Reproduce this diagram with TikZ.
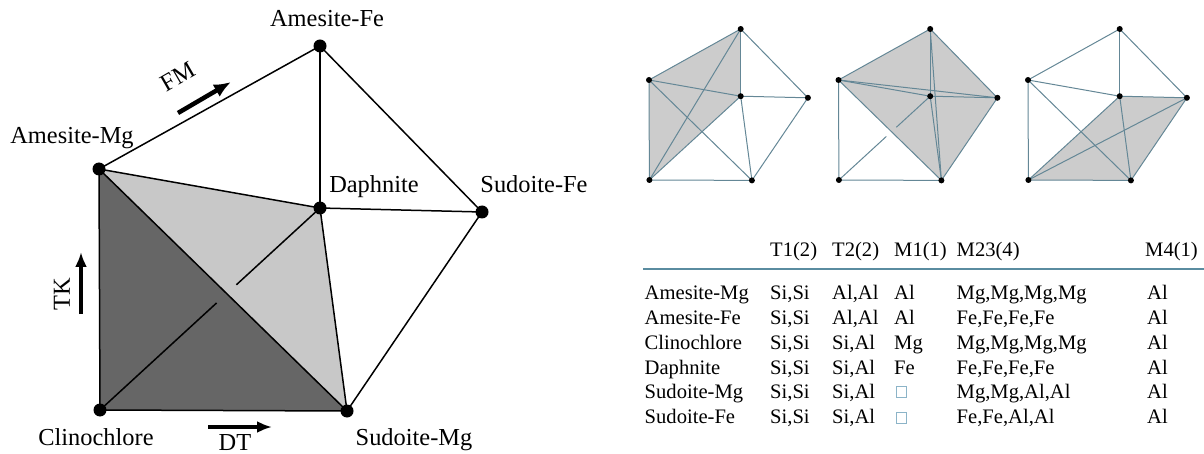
\documentclass[tikz,border=0pt]{standalone}
\usepackage{fontspec}
\setmainfont{Liberation Serif}
\usetikzlibrary{calc,arrows.meta}
\definecolor{darkshade}{RGB}{102,102,102}
\definecolor{lightshade}{RGB}{200,200,200}
\definecolor{smallshade}{RGB}{204,204,204}
\definecolor{smallline}{RGB}{100,135,150}
\definecolor{rulecol}{RGB}{90,140,160}
\definecolor{vacol}{RGB}{140,180,200}
\newcommand\mkpts[3]{%
  \coordinate (#1amg) at (#2,#3);
  \coordinate (#1afe) at (#2+91.7,#3-51);
  \coordinate (#1daph) at (#2+91.7,#3+16.2);
  \coordinate (#1sfe) at (#2+158.9,#3+17.8);
  \coordinate (#1clin) at (#2+0.4,#3+100);
  \coordinate (#1smg) at (#2+102.9,#3+100.4);}
\newcommand\mkedges[1]{%
  \draw[sedge] (#1amg) -- (#1afe);
  \draw[sedge] (#1afe) -- (#1daph);
  \draw[sedge] (#1afe) -- (#1sfe);
  \draw[sedge] (#1amg) -- (#1daph);
  \draw[sedge] (#1daph) -- (#1sfe);
  \draw[sedge] (#1daph) -- (#1smg);
  \draw[sedge] (#1sfe) -- (#1smg);
  \draw[sedge] (#1amg) -- (#1clin);
  \draw[sedge] (#1clin) -- (#1smg);
  \draw[sedge] (#1amg) -- (#1smg);}
\newcommand\mkdots[1]{%
  \foreach \p in {amg,afe,daph,sfe,clin,smg}{\node[sdot] (#1\p dot) at (#1\p) {};}}
\begin{document}
\begin{tikzpicture}[x=1pt,y=-1pt,
  dot/.style={circle,fill=black,inner sep=0pt,minimum size=13pt},
  sdot/.style={circle,fill=black,inner sep=0pt,minimum size=6pt},
  edge/.style={line width=1.5pt,black},
  sedge/.style={line width=1pt,smallline},
  lbl/.style={font=\fontsize{24.4}{29}\selectfont,inner sep=0pt,anchor=base},
  tbl/.style={font=\fontsize{20.6}{25}\selectfont,inner sep=0pt,anchor=base west},
  bigarrow/.style={line width=4.5pt,-{Latex[length=17pt,width=14pt]}},
  midarrow/.style={line width=3.6pt,-{Latex[length=15pt,width=12pt]}}]
\useasboundingbox (0,0) rectangle (1204,454);
% ---------- main diagram ----------
\coordinate (amg) at (99,169);
\coordinate (afe) at (320,46);
\coordinate (daph) at (320,208);
\coordinate (sfe) at (482,212);
\coordinate (clin) at (100,410);
\coordinate (smg) at (347,411);
\fill[darkshade] (amg) -- (clin) -- (smg) -- cycle;
\fill[lightshade] (amg) -- (daph) -- (smg) -- cycle;
\draw[edge] (amg) -- (afe);
\draw[edge] (afe) -- (daph);
\draw[edge] (afe) -- (sfe);
\draw[edge] (amg) -- (daph);
\draw[edge] (daph) -- (sfe);
\draw[edge] (daph) -- (smg);
\draw[edge] (sfe) -- (smg);
\draw[edge] (amg) -- (clin);
\draw[edge] (clin) -- (smg);
\draw[edge] (amg) -- (smg);
\draw[edge] (clin) -- ($(clin)!0.53!(daph)$);
\draw[edge] ($(clin)!0.62!(daph)$) -- (daph);
\foreach \p in {amg,afe,daph,sfe,clin,smg}{\node[dot] (\p dot) at (\p) {};}
\node[lbl] (lafe) at (327,26.5) {Amesite-Fe};
\node[lbl] (lamg) at (72,144) {Amesite-Mg};
\node[lbl] (ldaph) at (374,193) {Daphnite};
\node[lbl] (lsfe) at (534,193) {Sudoite-Fe};
\node[lbl] (lclin) at (96,445) {Clinochlore};
\node[lbl] (lsmg) at (414,445) {Sudoite-Mg};
% direction arrows
\coordinate (fma) at (178,113);
\coordinate (fmb) at (231,82);
\draw[bigarrow] (fma) -- (fmb);
\node[lbl,anchor=center,rotate=30] (lfm) at (178,77) {FM};
\coordinate (tka) at (81,314);
\coordinate (tkb) at (81,252);
\draw[midarrow] (tka) -- (tkb);
\node[lbl,anchor=center,rotate=90] (ltk) at (62,294) {TK};
\coordinate (dta) at (208,427);
\coordinate (dtb) at (272,427);
\draw[midarrow] (dta) -- (dtb);
\node[lbl] (ldt) at (235,450) {DT};
% ---------- small diagram 1 ----------
\mkpts{a}{649}{80}
\fill[smallshade] (aamg) -- (aafe) -- (adaph) -- (aclin) -- cycle;
\mkedges{a}
\draw[sedge] (aclin) -- (adaph);
\draw[sedge] (aclin) -- (aafe);
\mkdots{a}
% ---------- small diagram 2 ----------
\mkpts{b}{838.5}{80}
\fill[smallshade] (bamg) -- (bafe) -- (bsfe) -- (bsmg) -- cycle;
\mkedges{b}
\draw[sedge] (bclin) -- ($(bclin)!0.52!(bdaph)$);
\draw[sedge] ($(bclin)!0.63!(bdaph)$) -- (bdaph);
\draw[sedge] (bamg) -- (bsfe);
\draw[sedge] (bafe) -- (bsmg);
\mkdots{b}
% ---------- small diagram 3 ----------
\mkpts{c}{1028}{80}
\fill[smallshade] (cclin) -- (cdaph) -- (csfe) -- (csmg) -- cycle;
\mkedges{c}
\draw[sedge] (cclin) -- (cdaph);
\draw[sedge] (cclin) -- (csfe);
\mkdots{c}
% ---------- table ----------
\node[tbl] (h1) at (770,256.5) {T1(2)};
\node[tbl] (h2) at (832,256.5) {T2(2)};
\node[tbl] (h3) at (894,256.5) {M1(1)};
\node[tbl] (h4) at (956.5,256.5) {M23(4)};
\node[tbl] (h5) at (1145,256.5) {M4(1)};
\coordinate (rulel) at (643,269);
\coordinate (ruler) at (1204,269);
\draw[rulecol,line width=1.2pt] (rulel) -- (ruler);
\foreach \lab/\yy/\ta/\tb/\mo/\mt/\mf [count=\i] in {
  {Amesite-Mg}/299.5/{Si,Si}/{Al,Al}/{Al}/{Mg,Mg,Mg,Mg}/{Al},
  {Amesite-Fe}/324.5/{Si,Si}/{Al,Al}/{Al}/{Fe,Fe,Fe,Fe}/{Al},
  {Clinochlore}/349.5/{Si,Si}/{Si,Al}/{Mg}/{Mg,Mg,Mg,Mg}/{Al},
  {Daphnite}/374.5/{Si,Si}/{Si,Al}/{Fe}/{Fe,Fe,Fe,Fe}/{Al},
  {Sudoite-Mg}/398.5/{Si,Si}/{Si,Al}/{}/{Mg,Mg,Al,Al}/{Al},
  {Sudoite-Fe}/423.5/{Si,Si}/{Si,Al}/{}/{Fe,Fe,Al,Al}/{Al}}{
  \node[tbl] (r\i-lab) at (644.5,\yy) {\lab};
  \node[tbl] (r\i-t1) at (770,\yy) {\ta};
  \node[tbl] (r\i-t2) at (832,\yy) {\tb};
  \node[tbl] (r\i-m1) at (894,\yy) {\mo};
  \node[tbl] (r\i-m23) at (956.5,\yy) {\mt};
  \node[tbl] (r\i-m4) at (1147,\yy) {\mf};
}
\node[draw=vacol,line width=0.8pt,inner sep=0pt,minimum width=10pt,minimum height=11pt] (vac1) at (901,392) {};
\node[draw=vacol,line width=0.8pt,inner sep=0pt,minimum width=10pt,minimum height=11pt] (vac2) at (901,418) {};
\end{tikzpicture}
\end{document}
